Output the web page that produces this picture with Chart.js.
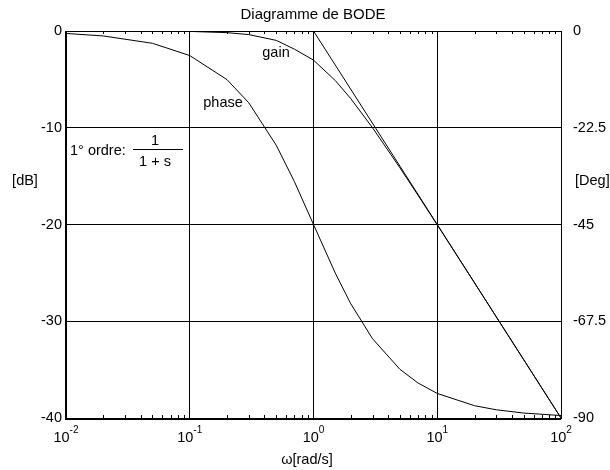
<!DOCTYPE html>
<html>
<head>
<meta charset="utf-8">
<script src="https://cdn.jsdelivr.net/npm/chart.js@4"></script>
<style>
  html, body { margin: 0; padding: 0; background: #fff; }
  #wrap { width: 610px; height: 470px; }
</style>
</head>
<body>
<div id="wrap"><canvas id="bode"></canvas></div>
<script>
// pulsation [rad/s]
var omega = [0.01, 0.02, 0.05, 0.1, 0.2, 0.3, 0.5, 0.7, 1, 1.5, 2, 3, 5, 7, 10, 20, 30, 50, 100];
// gain [dB]
var gainDb = [0, -0.002, -0.011, -0.043, -0.17, -0.37, -0.97, -1.87, -3.01, -5.12, -6.99, -10.0, -14.15, -16.99, -20.04, -26.03, -29.55, -33.98, -40.0];
// phase [deg]
var phaseDeg = [-0.57, -1.15, -2.86, -5.71, -11.31, -16.7, -26.57, -34.99, -45, -56.31, -63.43, -71.57, -78.69, -81.87, -84.29, -87.14, -88.09, -88.85, -89.43];
// asymptote
var asymW = [0.01, 1, 100];
var asymDb = [0, 0, -40];

var decades = [0.01, 0.1, 1, 10, 100];
var expLabels = ["-2", "-1", "0", "1", "2"];
var dbTicks = [-40, -30, -20, -10, 0];
var degTicks = [-90, -67.5, -45, -22.5, 0];

function pts(xs, ys) {
    return xs.map(function (x, i) { return {x: x, y: ys[i]}; });
}

var font = "Arial, 'Liberation Sans', sans-serif";
var fs = "14.5px ";

var bodeText = {
    id: 'bodeText',
    afterDraw: function (chart) {
        var ctx = chart.ctx;
        var xs = chart.scales.x;
        var a = chart.chartArea;
        ctx.save();
        ctx.strokeStyle = '#000';
        ctx.lineWidth = 1;

        // petites graduations haut / bas
        ctx.beginPath();
        for (var d = 0; d < decades.length - 1; d++) {
            for (var k = 2; k <= 9; k++) {
                var px = Math.round(xs.getPixelForValue(decades[d] * k)) + 0.5;
                ctx.moveTo(px, a.top);
                ctx.lineTo(px, a.top + 3);
                ctx.moveTo(px, a.bottom);
                ctx.lineTo(px, a.bottom - 3);
            }
        }
        ctx.stroke();

        // cadre
        ctx.strokeRect(Math.round(a.left) + 0.5, Math.round(a.top) + 0.5,
            Math.round(a.right - a.left), Math.round(a.bottom - a.top));
        ctx.lineWidth = 2;
        ctx.beginPath();
        ctx.moveTo(a.left, a.top);
        ctx.lineTo(a.left, a.bottom + 1);
        ctx.lineTo(a.right, a.bottom + 1);
        ctx.stroke();

        ctx.fillStyle = '#000';
        ctx.textBaseline = 'middle';

        // étiquettes 10^n
        decades.forEach(function (v, i) {
            var px = xs.getPixelForValue(v);
            ctx.font = fs + font;
            var wb = ctx.measureText("10").width;
            ctx.font = "10px " + font;
            var we = ctx.measureText(expLabels[i]).width;
            var x0 = px - (wb + we) / 2;
            ctx.font = fs + font;
            ctx.textAlign = 'left';
            ctx.fillText("10", x0, a.bottom + 20);
            ctx.font = "10px " + font;
            ctx.fillText(expLabels[i], x0 + wb, a.bottom + 12);
        });

        ctx.font = "15px " + font;
        ctx.textAlign = 'center';
        ctx.fillText("Diagramme de BODE", 313, 15);
        ctx.font = fs + font;
        ctx.fillText("\u03c9[rad/s]", 307, 460);
        ctx.fillText("[dB]", 25, 181);
        ctx.textAlign = 'left';
        ctx.fillText("[Deg]", 575, 181);

        ctx.textAlign = 'center';
        ctx.fillText("gain", 276, 53);
        ctx.fillText("phase", 223, 103);

        ctx.textAlign = 'left';
        ctx.fillText("1\u00b0 ordre:", 70, 151);
        ctx.textAlign = 'center';
        ctx.fillText("1", 155, 141);
        ctx.fillText("1 + s", 155, 162);
        ctx.lineWidth = 1;
        ctx.beginPath();
        ctx.moveTo(133, 149.5);
        ctx.lineTo(183, 149.5);
        ctx.stroke();
        ctx.restore();
    }
};

var lineStyle = {
    borderColor: '#000',
    borderWidth: 1,
    pointRadius: 0,
    fill: false,
    tension: 0
};

new Chart(document.getElementById('bode'), {
    type: 'line',
    data: {
        datasets: [
            Object.assign({label: 'gain', data: pts(omega, gainDb), yAxisID: 'y'}, lineStyle),
            Object.assign({label: 'phase', data: pts(omega, phaseDeg), yAxisID: 'y2'}, lineStyle),
            Object.assign({label: 'asymptote', data: pts(asymW, asymDb), yAxisID: 'y'}, lineStyle)
        ]
    },
    options: {
        responsive: true,
        maintainAspectRatio: false,
        animation: false,
        layout: {padding: {top: 31, left: 0, right: 0, bottom: 0}},
        plugins: {
            legend: {display: false},
            tooltip: {enabled: false}
        },
        scales: {
            x: {
                type: 'logarithmic',
                min: 0.01,
                max: 100,
                afterBuildTicks: function (s) {
                    s.ticks = decades.map(function (v) { return {value: v}; });
                },
                afterFit: function (s) { s.height = 52; },
                ticks: {display: false},
                grid: {color: '#000', lineWidth: 1, drawTicks: false},
                border: {display: false}
            },
            y: {
                position: 'left',
                min: -40,
                max: 0,
                afterBuildTicks: function (s) {
                    s.ticks = dbTicks.map(function (v) { return {value: v}; });
                },
                afterFit: function (s) { s.width = 66; },
                ticks: {color: '#000', padding: 4, font: {size: 14.5, family: font}},
                grid: {color: '#000', lineWidth: 1, drawTicks: false},
                border: {display: false}
            },
            y2: {
                position: 'right',
                min: -90,
                max: 0,
                afterBuildTicks: function (s) {
                    s.ticks = degTicks.map(function (v) { return {value: v}; });
                },
                afterFit: function (s) { s.width = 49; },
                ticks: {color: '#000', padding: 12, font: {size: 14.5, family: font}},
                grid: {display: false, drawTicks: false},
                border: {display: false}
            }
        }
    },
    plugins: [bodeText]
});
</script>
</body>
</html>
